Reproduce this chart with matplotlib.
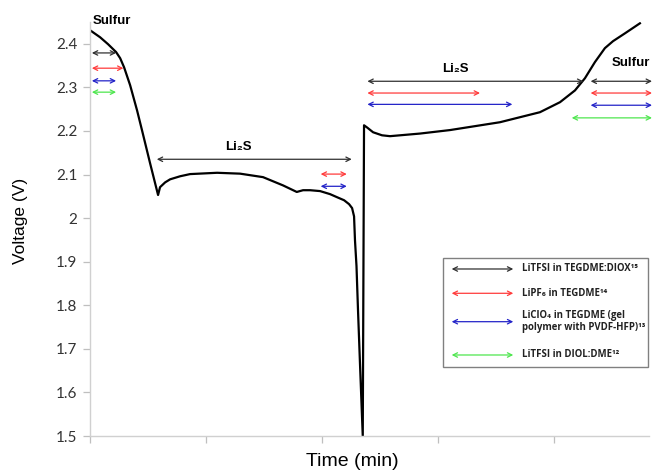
import matplotlib
matplotlib.use('Agg')
import matplotlib.pyplot as plt
from matplotlib.patches import Rectangle

# discharge / charge voltage profile (time in arbitrary minutes, voltage in V)
time_min = [0, 8.6, 15.5, 22.4, 25.9, 29.3, 34.5, 40.5, 44.8, 51.7, 56.9, 58.6,
            60.3, 64.7, 69.0, 77.6, 86.2, 109.5, 129.3, 149.1, 166.4, 178.2,
            183.6, 189.7, 198.3, 206.9, 212.9, 219.0, 223.3, 225.9, 227.6,
            228.4, 229.7, 231.0, 232.8, 235.1,
            236.2, 238.8, 244.0, 251.7, 258.6, 284.5, 310.3, 353.4, 387.9,
            405.2, 418.1, 426.7, 435.3, 443.9, 450.9, 461.2, 474.1]
voltage = [2.431, 2.415, 2.399, 2.381, 2.367, 2.346, 2.305, 2.247, 2.201, 2.126,
           2.071, 2.053, 2.071, 2.082, 2.089, 2.096, 2.101, 2.104, 2.102, 2.094,
           2.075, 2.060, 2.064, 2.064, 2.062, 2.055, 2.048, 2.041, 2.032, 2.023,
           2.004, 1.949, 1.890, 1.789, 1.660, 1.500,
           2.213, 2.208, 2.197, 2.190, 2.188, 2.194, 2.202, 2.220, 2.243,
           2.266, 2.293, 2.321, 2.358, 2.390, 2.406, 2.424, 2.447]

# electrolytes (legend) and their colours
electrolytes = ['LiTFSI in TEGDME:DIOX¹⁵', 'LiPF₆ in TEGDME¹⁴',
                'LiClO₄ in TEGDME (gel\npolymer with PVDF-HFP)¹³', 'LiTFSI in DIOL:DME¹²']
colors = ['#303030', '#ff3b3b', '#2323c8', '#4ee64e']

# plateau spans per electrolyte: (t_start, t_end, level)
sulfur_dis = [(1.5, 22.4, 2.379), (1.5, 28.7, 2.344), (1.5, 22.4, 2.315), (1.5, 22.4, 2.289)]
li2s_dis = [(57.5, 225.6, 2.135), (198.8, 221.3, 2.101), (198.8, 221.3, 2.073)]
li2s_chg = [(239.1, 425.3, 2.314), (239.1, 336.2, 2.287), (239.1, 364.1, 2.261)]
sulfur_chg = [(431.6, 484.5, 2.314), (431.6, 484.5, 2.287), (431.6, 484.5, 2.259), (415.3, 484.5, 2.230)]

fig = plt.figure(figsize=(6.53, 4.71), dpi=100)
ax = fig.add_axes([0.138, 0.0743, 0.856, 0.879])

ax.plot(time_min, voltage, color='black', lw=1.6, solid_joinstyle='round')

ax.set_xlim(0, 482)
ax.set_ylim(1.5, 2.45)
ax.set_xticks([0, 100, 200, 300, 400])
ax.set_xticklabels([])
ax.set_yticks([1.5, 1.6, 1.7, 1.8, 1.9, 2.0, 2.1, 2.2, 2.3, 2.4])
ax.set_yticklabels(['1.5', '1.6', '1.7', '1.8', '1.9', '2', '2.1', '2.2', '2.3', '2.4'],
                   family=['Lato', 'DejaVu Sans'], fontsize=11, color='#333333')
ax.tick_params(axis='both', direction='out', length=5, color='#bfbfbf', width=0.9, pad=4)
for s in ['top', 'right']:
    ax.spines[s].set_visible(False)
for s in ['left', 'bottom']:
    ax.spines[s].set_color('#d0d0d0')
    ax.spines[s].set_linewidth(1.0)

ax.set_ylabel('Voltage (V)', family='Liberation Sans', fontsize=12.5)
ax.yaxis.set_label_coords(-0.111, 0.52)
ax.set_xlabel('Time (min)', family='Liberation Sans', fontsize=14)
ax.xaxis.set_label_coords(0.469, -0.042)


def span(x0, x1, y, c):
    ax.annotate('', xy=(x0, y), xytext=(x1, y), annotation_clip=False,
                arrowprops=dict(arrowstyle='<->', color=c, lw=0.9,
                                mutation_scale=8, shrinkA=0, shrinkB=0))


for group in [sulfur_dis, li2s_dis, li2s_chg, sulfur_chg]:
    cols = colors if len(group) == 4 else colors[:3]
    for (a, b, y), c in zip(group, cols):
        span(a, b, y, c)

lab = dict(family=['Liberation Sans', 'DejaVu Sans'], fontweight='bold', fontsize=9.5,
           ha='center', va='center', clip_on=False)
ax.text(19, 2.452, 'Sulfur', **lab)
ax.text(127.6, 2.163, 'Li₂S', **lab)
ax.text(314.7, 2.343, 'Li₂S', **lab)
ax.text(466.4, 2.355, 'Sulfur', **lab)

# legend box drawn by hand (double arrows as keys)
fig.patches.append(Rectangle((0.679, 0.2202), 0.314, 0.2314, transform=fig.transFigure,
                             fill=False, edgecolor='#808080', lw=1.0))
rows = [0.4289, 0.3773, 0.317, 0.2463]
for name, c, y in zip(electrolytes, colors, rows):
    fig.add_artist(plt.matplotlib.text.Annotation(
        '', xy=(0.6917, y), xytext=(0.786, y), xycoords='figure fraction',
        textcoords='figure fraction',
        arrowprops=dict(arrowstyle='<->', color=c, lw=0.9, mutation_scale=8,
                        shrinkA=0, shrinkB=0)))
    fig.text(0.80, y, name, family=['Open Sans', 'DejaVu Sans'], fontweight='bold',
             fontsize=6.9, va='center', ha='left', color='#222222', linespacing=1.15)

fig.savefig('out.png', dpi=100)
